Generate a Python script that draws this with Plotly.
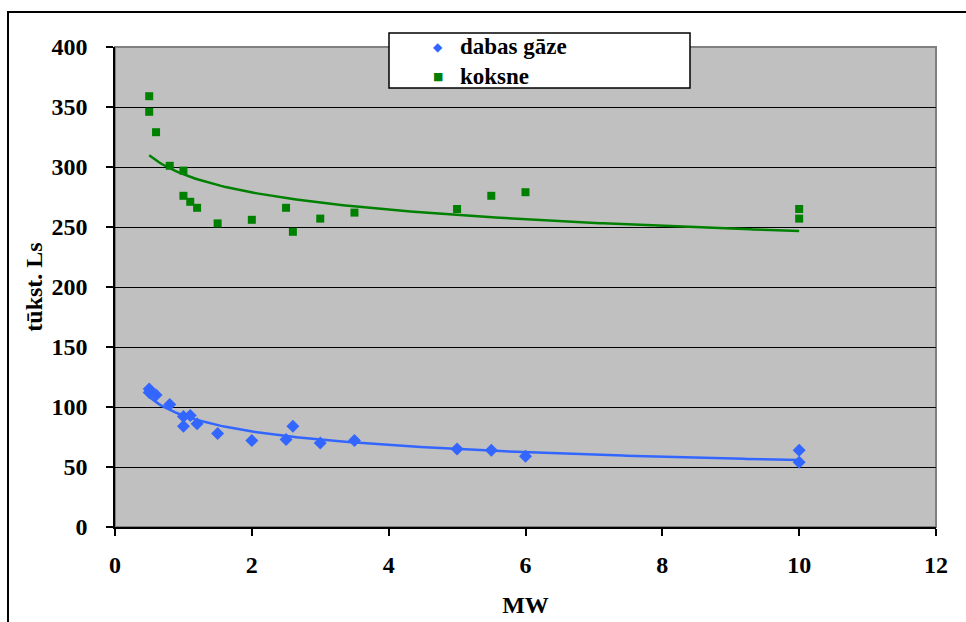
import numpy as np
import plotly.graph_objects as go

# Data
gas_x = [0.5, 0.5, 0.6, 0.8, 1.0, 1.0, 1.1, 1.2, 1.5, 2.0, 2.5, 2.6, 3.0, 3.5, 5.0, 5.5, 6.0, 10, 10]
gas_y = [115, 112, 110, 102, 92, 84, 93, 86, 78, 72, 73, 84, 70, 72, 65, 64, 59, 64, 54]

wood_x = [0.5, 0.5, 0.6, 0.8, 1.0, 1.0, 1.1, 1.2, 1.5, 2.0, 2.5, 2.6, 3.0, 3.5, 5.0, 5.5, 6.0, 10, 10]
wood_y = [359, 346, 329, 301, 297, 276, 271, 266, 253, 256, 266, 246, 257, 262, 265, 276, 279, 265, 257]

series_names = ["dabas gāze", "koksne"]
x_ticks = [0, 2, 4, 6, 8, 10, 12]
y_ticks = [0, 50, 100, 150, 200, 250, 300, 350, 400]

BLUE = "#3366FF"
GREEN = "#008000"
FONT = "Liberation Serif"


def power_trend(xs, ys):
    lx = np.log(np.array(xs, dtype=float))
    ly = np.log(np.array(ys, dtype=float))
    b, la = np.polyfit(lx, ly, 1)
    xt = np.linspace(min(xs), max(xs), 200)
    return xt, np.exp(la) * xt ** b


fig = go.Figure()

gx, gy = power_trend(gas_x, gas_y)
wx, wy = power_trend(wood_x, wood_y)

fig.add_trace(go.Scatter(x=gx, y=gy, mode="lines", line=dict(color=BLUE, width=2.5),
                         showlegend=False, hoverinfo="skip"))
fig.add_trace(go.Scatter(x=wx, y=wy, mode="lines", line=dict(color=GREEN, width=2.5),
                         showlegend=False, hoverinfo="skip"))

fig.add_trace(go.Scatter(x=gas_x, y=gas_y, mode="markers", name=series_names[0],
                         marker=dict(symbol="diamond", size=10, color=BLUE), showlegend=False))
fig.add_trace(go.Scatter(x=wood_x, y=wood_y, mode="markers", name=series_names[1],
                         marker=dict(symbol="square", size=8, color=GREEN), showlegend=False))

L, R, T, B = 115, 30, 47, 95
W, H = 966, 622
pw, ph = W - L - R, H - T - B


def px2paper_x(px):
    return (px - L) / pw


def px2paper_y(py):
    return (H - B - py) / ph


shapes = [
    # outer chart border (top and left visible)
    dict(type="rect", xref="paper", yref="paper",
         x0=px2paper_x(8), x1=px2paper_x(975), y0=px2paper_y(640), y1=px2paper_y(12),
         line=dict(color="black", width=2), fillcolor="rgba(0,0,0,0)", layer="below"),
    # plot area border (gray)
    dict(type="rect", xref="paper", yref="paper", x0=0, x1=1, y0=0, y1=1,
         line=dict(color="#808080", width=2), fillcolor="rgba(0,0,0,0)", layer="below"),
    # legend box
    dict(type="rect", xref="paper", yref="paper",
         x0=px2paper_x(389), x1=px2paper_x(690), y0=px2paper_y(88), y1=px2paper_y(33),
         line=dict(color="black", width=1.5), fillcolor="white", layer="above"),
]

LEG_FONT = 23
line_h = LEG_FONT * 1.3
centre = 61
rows_y = [centre - line_h / 2, centre + line_h / 2]

annotations = [
    dict(xref="paper", yref="paper", x=px2paper_x(458), y=px2paper_y(centre),
         xanchor="left", yanchor="middle", align="left", showarrow=False,
         text="<br>".join("<b>%s</b>" % n for n in series_names),
         font=dict(family=FONT, size=LEG_FONT, color="black")),
]
legend_glyphs = [("◆", BLUE, 12), ("■", GREEN, 11)]
for (glyph, col, gsize), cy in zip(legend_glyphs, rows_y):
    annotations.append(dict(xref="paper", yref="paper", x=px2paper_x(438), y=px2paper_y(cy + 1),
                            xanchor="center", yanchor="middle", showarrow=False,
                            text=glyph, font=dict(family="DejaVu Sans", size=gsize, color=col)))

fig.update_layout(
    width=W, height=H,
    margin=dict(l=L, r=R, t=T, b=B, autoexpand=False),
    paper_bgcolor="white",
    plot_bgcolor="#C0C0C0",
    font=dict(family=FONT, size=24, color="black"),
    shapes=shapes,
    annotations=annotations,
    showlegend=False,
)

fig.update_xaxes(
    range=[0, 12], tickvals=x_ticks, ticktext=[str(v) for v in x_ticks],
    showgrid=False, zeroline=False, automargin=False,
    showline=True, linecolor="black", linewidth=1.5,
    ticks="outside", ticklen=7, tickcolor="black", tickwidth=1.5,
    tickfont=dict(family=FONT, size=24, weight="bold"),
    ticklabelstandoff=8,
    title=dict(text="<b>MW</b>", font=dict(family=FONT, size=24), standoff=20),
)
fig.update_yaxes(
    range=[0, 400], tickvals=y_ticks, ticktext=[str(v) for v in y_ticks],
    showgrid=True, gridcolor="black", gridwidth=1,
    zeroline=False, automargin=False,
    showline=True, linecolor="black", linewidth=1.5,
    ticks="outside", ticklen=7, tickcolor="black", tickwidth=1.5,
    tickfont=dict(family=FONT, size=24, weight="bold"),
    ticklabelstandoff=14,
    title=dict(text="<b>tūkst. Ls</b>", font=dict(family=FONT, size=24), standoff=2),
)

fig.write_html("out.html")
